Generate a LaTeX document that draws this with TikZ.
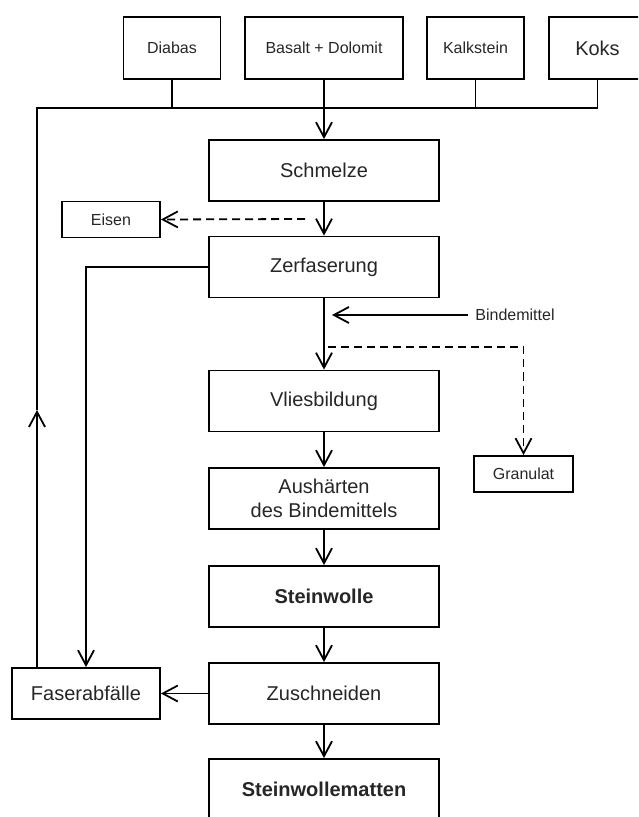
\documentclass[tikz,border=0pt]{standalone}
\usepackage{fontspec}
\setmainfont{Liberation Sans}
\usetikzlibrary{arrows.meta}

\begin{document}
\begin{tikzpicture}[x=0.5pt, y=-0.5pt, line width=0.9pt,
        box/.style={draw, text=black!85, minimum width=115pt, minimum height=30.5pt, align=center, font=\fontsize{10}{12}\selectfont},
        rohbox/.style={draw, text=black!85, minimum width=48.5pt, minimum height=31pt, font=\fontsize{8}{10}\selectfont},
        nebenbox/.style={draw, text=black!85, minimum width=49pt, minimum height=18pt, font=\fontsize{8}{10}\selectfont},
        fett/.style={font=\fontsize{10}{12}\selectfont\bfseries},
        pfeil/.style={-{Straight Barb[length=7.5pt,width=8pt]}},
        strich/.style={dash pattern=on 4pt off 2.5pt}]
        \clip (0,0) rectangle (638,817);

        % Rohstoffe
        \node[rohbox] (diabas) at (172,48) {Diabas};
        \node[rohbox, minimum width=79pt] (basalt) at (324,48) {Basalt + Dolomit};
        \node[rohbox] (kalk) at (475.5,48) {Kalkstein};
        \node[rohbox, font=\fontsize{10}{12}\selectfont] (koks) at (597.5,48) {Koks};

        % Hauptstrang
        \node[box] (schmelze) at (324,170.5) {Schmelze};
        \node[box] (zerf) at (324,267) {Zerfaserung};
        \node[box] (vlies) at (324,401) {Vliesbildung};
        \node[box] (aush) at (324,498.5) {Aushärten\\des Bindemittels};
        \node[box, fett] (wolle) at (324,596.5) {Steinwolle};
        \node[box] (zuschn) at (324,693.5) {Zuschneiden};
        \node[box, fett] (matten) at (324,789.5) {Steinwollematten};

        % Nebenprodukte
        \node[nebenbox] (eisen) at (111,219.5) {Eisen};
        \node[nebenbox, minimum width=49.5pt] (granulat) at (523.5,474) {Granulat};
        \node[box, minimum width=74pt, minimum height=25.5pt] (faser) at (86,693.5) {Faserabfälle};
        \node[text=black!85, font=\fontsize{8}{10}\selectfont] (bind) at (515,315) {Bindemittel};

        \coordinate (bus) at (37,108);
        \coordinate (rueck) at (37,410);
        \coordinate (eisenab) at (305,219);
        \coordinate (bindzu) at (332,315);
        \coordinate (granab) at (328,347);

        \draw (diabas.south) -- (diabas.south |- bus);
        \draw (kalk.south) -- (kalk.south |- bus);
        \draw (koks.south) -- (koks.south |- bus);
        \draw (rueck) -- (bus) -- (koks.south |- bus);
        \draw[pfeil] (faser.north -| bus) -- (rueck);
        \draw[pfeil] (basalt.south) -- (schmelze.north);

        \draw[pfeil] (schmelze) -- (zerf);
        \draw[pfeil, strich] (eisenab) -- (eisen.east);
        \draw[pfeil] (zerf.west) -| (faser.north);
        \draw[pfeil] (zerf) -- (vlies);
        \draw[pfeil] (bind.west) -- (bindzu);
        \draw[pfeil, strich] (granab) -| (granulat.north);
        \draw[pfeil] (vlies) -- (aush);
        \draw[pfeil] (aush) -- (wolle);
        \draw[pfeil] (wolle) -- (zuschn);
        \draw[pfeil] (zuschn) -- (matten);
        \draw[pfeil] (zuschn.west) -- (faser.east);

    \end{tikzpicture}
\end{document}
